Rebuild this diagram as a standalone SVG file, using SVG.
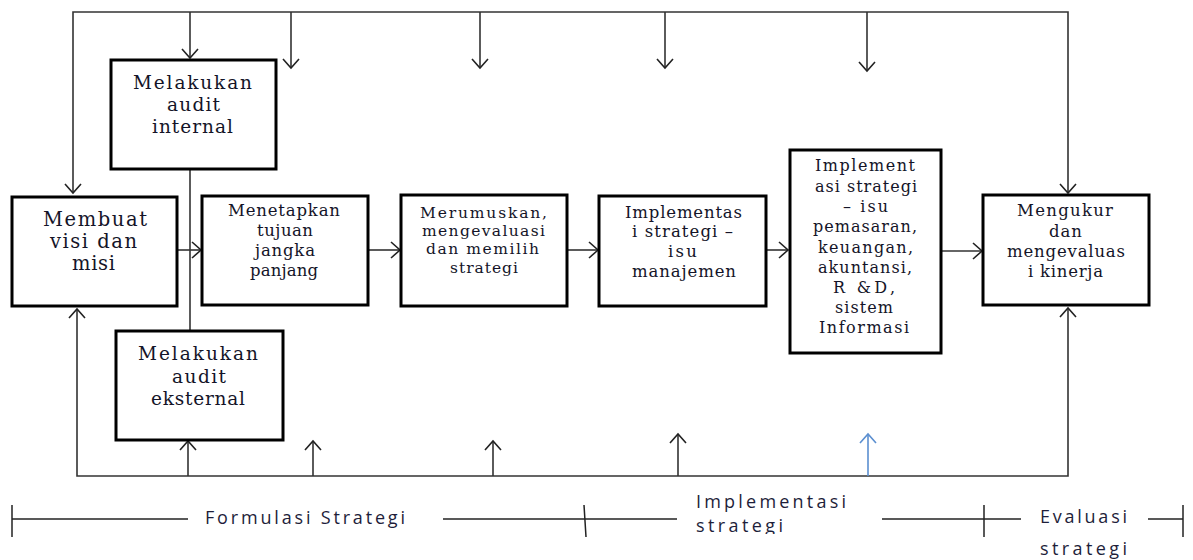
<svg xmlns="http://www.w3.org/2000/svg" width="1193" height="560" viewBox="0 0 1193 560">
<style>
.box{fill:#fff;stroke:#000;stroke-width:3}
.c{fill:none;stroke:#333;stroke-width:1.6}
.t{font-family:"DejaVu Serif","Liberation Serif",serif;fill:#141428}
.s{font-family:"Open Sans","Liberation Sans",Arial,sans-serif;fill:#1e1e3a;font-size:18px}
.p{fill:none;stroke:#222;stroke-width:1.5}
</style>
<defs>
<marker id="a" markerUnits="userSpaceOnUse" markerWidth="24" markerHeight="24" refX="0" refY="0" viewBox="-12 -12 24 24" orient="auto-start-reverse" overflow="visible">
<path d="M-9,-8 L0,0 L-9,8" fill="none" stroke="#222" stroke-width="1.6"/>
</marker>
<marker id="ab" markerUnits="userSpaceOnUse" markerWidth="24" markerHeight="24" refX="0" refY="0" viewBox="-12 -12 24 24" orient="auto" overflow="visible">
<path d="M-9,-8 L0,0 L-9,8" fill="none" stroke="#5b8fd0" stroke-width="1.6"/>
</marker>
<clipPath id="clipb"><rect x="0" y="0" width="1193" height="534"/></clipPath>
</defs>

<g id="connectors">
<polyline class="c" points="73,193 73,12 1068,12 1068,193" marker-start="url(#a)" marker-end="url(#a)"/>
<line class="c" x1="190" y1="12" x2="190" y2="58" marker-end="url(#a)"/>
<line class="c" x1="291" y1="12" x2="291" y2="68" marker-end="url(#a)"/>
<line class="c" x1="480" y1="12" x2="480" y2="68" marker-end="url(#a)"/>
<line class="c" x1="665" y1="12" x2="665" y2="68" marker-end="url(#a)"/>
<line class="c" x1="867" y1="12" x2="867" y2="71" marker-end="url(#a)"/>
<polyline class="c" points="77,309 77,476 1068,476 1068,308" marker-start="url(#a)" marker-end="url(#a)" stroke="#222"/>
<line class="c" x1="188" y1="476" x2="188" y2="441" marker-end="url(#a)"/>
<line class="c" x1="313" y1="476" x2="313" y2="441" marker-end="url(#a)"/>
<line class="c" x1="493" y1="476" x2="493" y2="441" marker-end="url(#a)"/>
<line class="c" x1="678" y1="476" x2="678" y2="434" marker-end="url(#a)"/>
<line x1="868" y1="476" x2="868" y2="434" fill="none" stroke="#5b8fd0" stroke-width="1.6" marker-end="url(#ab)"/>
<line class="c" x1="190" y1="169" x2="190" y2="331"/>
<line class="c" x1="177" y1="250" x2="201" y2="250" marker-end="url(#a)"/>
<line class="c" x1="368" y1="250" x2="400" y2="250" marker-end="url(#a)"/>
<line class="c" x1="567" y1="250" x2="598" y2="250" marker-end="url(#a)"/>
<line class="c" x1="766" y1="250" x2="788" y2="250" marker-end="url(#a)"/>
<line class="c" x1="941" y1="251" x2="982" y2="251" marker-end="url(#a)"/>
</g>

<g id="internal">
<rect class="box" x="111" y="60" width="165" height="109"/>
<text class="t" font-size="18.5"><tspan x="133" y="89" textLength="119" lengthAdjust="spacing">Melakukan</tspan><tspan x="167" y="111" textLength="53" lengthAdjust="spacing">audit</tspan><tspan x="152" y="133" textLength="81" lengthAdjust="spacing">internal</tspan></text>
</g>

<g id="visi">
<rect class="box" x="12" y="197" width="165" height="109"/>
<text class="t" font-size="19.5"><tspan x="43" y="226" textLength="104" lengthAdjust="spacing">Membuat</tspan><tspan x="50" y="248" textLength="87" lengthAdjust="spacing">visi dan</tspan><tspan x="72" y="270" textLength="43" lengthAdjust="spacing">misi</tspan></text>
</g>

<g id="tujuan">
<rect class="box" x="202" y="196" width="166" height="109"/>
<text class="t" font-size="16.5"><tspan x="228" y="216" textLength="112" lengthAdjust="spacing">Menetapkan</tspan><tspan x="257" y="236" textLength="56" lengthAdjust="spacing">tujuan</tspan><tspan x="255" y="256" textLength="60" lengthAdjust="spacing">jangka</tspan><tspan x="250" y="276" textLength="68" lengthAdjust="spacing">panjang</tspan></text>
</g>

<g id="eksternal">
<rect class="box" x="116" y="331" width="167" height="109"/>
<text class="t" font-size="18.5"><tspan x="138" y="360" textLength="120" lengthAdjust="spacing">Melakukan</tspan><tspan x="172" y="383" textLength="54" lengthAdjust="spacing">audit</tspan><tspan x="151" y="405" textLength="94" lengthAdjust="spacing">eksternal</tspan></text>
</g>

<g id="strategi">
<rect class="box" x="401" y="195" width="166" height="111"/>
<text class="t" font-size="15.5"><tspan x="420" y="218" textLength="127" lengthAdjust="spacing">Merumuskan,</tspan><tspan x="422" y="236" textLength="123" lengthAdjust="spacing">mengevaluasi</tspan><tspan x="426" y="254" textLength="113" lengthAdjust="spacing">dan memilih</tspan><tspan x="450" y="273" textLength="68" lengthAdjust="spacing">strategi</tspan></text>
</g>

<g id="manajemen">
<rect class="box" x="599" y="196" width="167" height="110"/>
<text class="t" font-size="16.5"><tspan x="625" y="218" textLength="117" lengthAdjust="spacing">Implementas</tspan><tspan x="632" y="237" textLength="101" lengthAdjust="spacing">i strategi –</tspan><tspan x="668" y="257" textLength="29" lengthAdjust="spacing">isu</tspan><tspan x="632" y="277" textLength="104" lengthAdjust="spacing">manajemen</tspan></text>
</g>

<g id="fungsional">
<rect class="box" x="790" y="150" width="151" height="203"/>
<text class="t" font-size="16"><tspan x="815" y="171" textLength="100" lengthAdjust="spacing">Implement</tspan><tspan x="815" y="192" textLength="102" lengthAdjust="spacing">asi strategi</tspan><tspan x="843" y="212" textLength="45" lengthAdjust="spacing">– isu</tspan><tspan x="813" y="232" textLength="104" lengthAdjust="spacing">pemasaran,</tspan><tspan x="818" y="253" textLength="95" lengthAdjust="spacing">keuangan,</tspan><tspan x="818" y="273" textLength="94" lengthAdjust="spacing">akuntansi,</tspan><tspan x="833" y="293" textLength="62" lengthAdjust="spacing">R &amp;D,</tspan><tspan x="835" y="313" textLength="58" lengthAdjust="spacing">sistem</tspan><tspan x="819" y="333" textLength="90" lengthAdjust="spacing">Informasi</tspan></text>
</g>

<g id="kinerja">
<rect class="box" x="983" y="195" width="166" height="110"/>
<text class="t" font-size="16.5"><tspan x="1017" y="216" textLength="96" lengthAdjust="spacing">Mengukur</tspan><tspan x="1049" y="237" textLength="33" lengthAdjust="spacing">dan</tspan><tspan x="1007" y="257" textLength="118" lengthAdjust="spacing">mengevaluas</tspan><tspan x="1028" y="277" textLength="75" lengthAdjust="spacing">i kinerja</tspan></text>
</g>

<g id="phases">
<line class="p" x1="12" y1="505" x2="12" y2="537"/>
<line class="p" x1="12" y1="519" x2="188" y2="519"/>
<text class="s" x="205" y="524" textLength="200" lengthAdjust="spacing">Formulasi Strategi</text>
<line class="p" x1="443" y1="519" x2="677" y2="519"/>
<line class="p" x1="584" y1="505" x2="586" y2="537"/>
<g clip-path="url(#clipb)">
<text class="s"><tspan x="696" y="508" textLength="150" lengthAdjust="spacing">Implementasi</tspan><tspan x="696" y="532" textLength="87" lengthAdjust="spacing">strategi</tspan></text>
</g>
<line class="p" x1="882" y1="519" x2="1021" y2="519"/>
<line class="p" x1="984" y1="505" x2="984" y2="537"/>
<text class="s" x="1040" y="523" textLength="87" lengthAdjust="spacing">Evaluasi</text>
<line class="p" x1="1148" y1="519" x2="1183" y2="519"/>
<line class="p" x1="1183" y1="505" x2="1183" y2="537"/>
<text class="s" x="1040" y="555" textLength="87" lengthAdjust="spacing">strategi</text>
</g>
</svg>
